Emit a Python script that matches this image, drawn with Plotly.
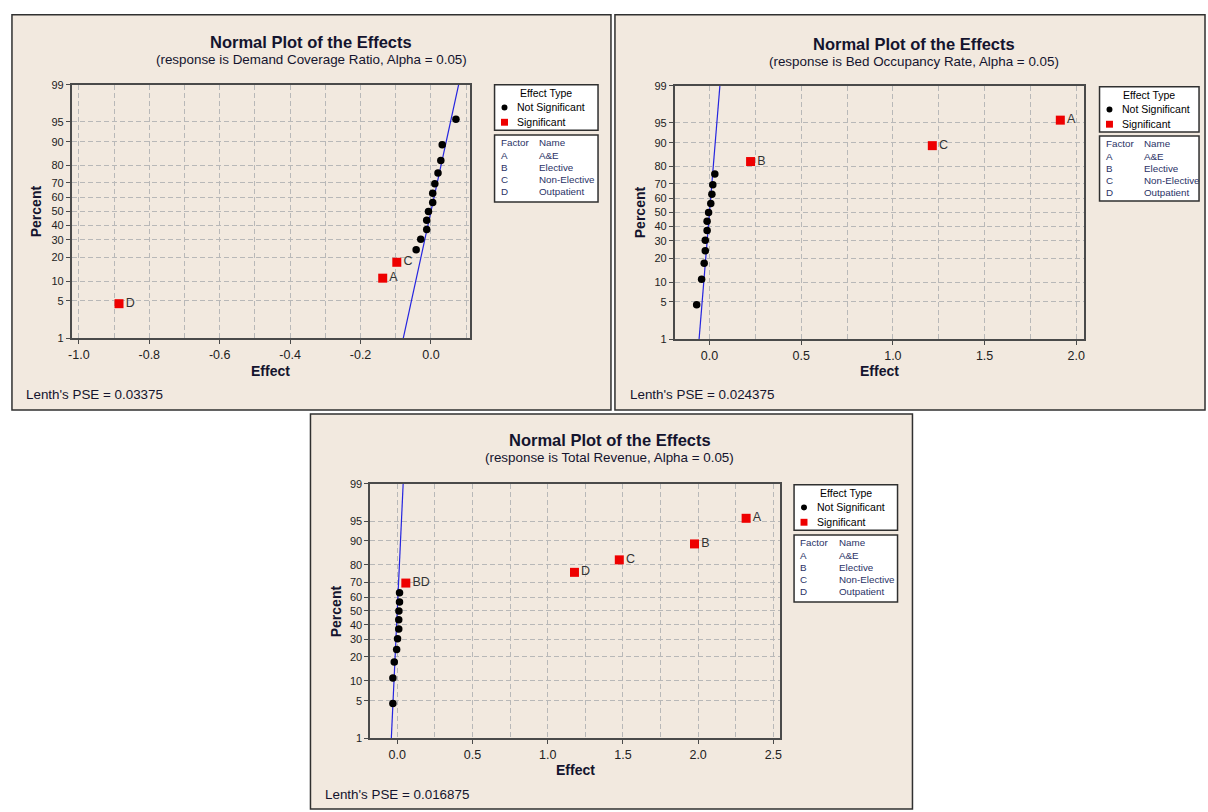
import plotly.graph_objects as go
from statistics import NormalDist

W, H = 1208, 812

# ---------------- data ----------------
percent = [4.5, 11.0, 17.5, 24.0, 30.5, 37.0, 43.5, 50.0, 56.5, 63.0, 69.5, 76.0, 82.5, 89.0, 95.5]
percent_ticks = [1, 5, 10, 20, 30, 40, 50, 60, 70, 80, 90, 95, 99]

dcr_effects = [-0.886, -0.137, -0.097, -0.042, -0.029, -0.012, -0.012, -0.007,
               0.005, 0.005, 0.011, 0.020, 0.028, 0.032, 0.071]
dcr_labels = ["D", "A", "C", "", "", "", "", "", "", "", "", "", "", "", ""]
dcr_pse = 0.03375
dcr_xticks = [-1.0, -0.8, -0.6, -0.4, -0.2, 0.0]

bor_effects = [-0.070, -0.043, -0.029, -0.023, -0.023, -0.013, -0.013, -0.005,
               0.007, 0.013, 0.018, 0.029, 0.224, 1.215, 1.913]
bor_labels = ["", "", "", "", "", "", "", "", "", "", "", "", "B", "C", "A"]
bor_pse = 0.024375
bor_xticks = [0.0, 0.5, 1.0, 1.5, 2.0]

rev_effects = [-0.029, -0.029, -0.020, -0.004, 0.002, 0.010, 0.010, 0.011,
               0.015, 0.015, 0.057, 1.178, 1.476, 1.976, 2.319]
rev_labels = ["", "", "", "", "", "", "", "", "", "", "BD", "D", "C", "B", "A"]
rev_pse = 0.016875
rev_xticks = [0.0, 0.5, 1.0, 1.5, 2.0, 2.5]

factor_codes = ["A", "B", "C", "D"]
factor_names = ["A&E", "Elective", "Non-Elective", "Outpatient"]

# ---------------- helpers ----------------
nd = NormalDist()
def z(p):
    return nd.inv_cdf(p / 100.0)

def px(x):
    return x / W

def py(y):
    return 1 - y / H

FONT = "Liberation Sans"
BEIGE = "#f2e9df"
TXT = "#14142e"
NAVY = "#2a3266"
GRID = "#b8b8b8"
FRAME = "#4a4a4a"

panels = [
    dict(effects=dcr_effects, labels=dcr_labels, pse=dcr_pse, xticks=dcr_xticks,
         response="Demand Coverage Ratio", pse_text="0.03375",
         box=(8, 9, 610, 410), plot=(68, 80, 468, 337), xrange=[-1.0205, 0.11],
         dtick_minor=0.1, tick0_minor=-1.0, title_x=309, title_y=37,
         xlab_y=370, ylab_x=33, lenth=(20, 394), legend=(493, 80, 597, 126, 131, 199)),
    dict(effects=bor_effects, labels=bor_labels, pse=bor_pse, xticks=bor_xticks,
         response="Bed Occupancy Rate", pse_text="0.024375",
         box=(614, 9, 1207, 410), plot=(674, 81, 1085, 338), xrange=[-0.19, 2.04],
         dtick_minor=0.25, tick0_minor=0.0, title_x=915, title_y=39,
         xlab_y=370, ylab_x=640, lenth=(627, 394), legend=(1101, 82, 1201, 128, 132, 198)),
    dict(effects=rev_effects, labels=rev_labels, pse=rev_pse, xticks=rev_xticks,
         response="Total Revenue", pse_text="0.016875",
         box=(308, 414, 913, 815), plot=(368, 485, 780, 743), xrange=[-0.18, 2.545],
         dtick_minor=0.25, tick0_minor=0.0, title_x=609, title_y=441,
         xlab_y=775, ylab_x=334, lenth=(321, 800), legend=(794, 486, 898, 532, 537, 605)),
]

fig = go.Figure()
shapes = []
annotations = []
zlo, zhi = z(1), z(99)
zpos = [z(p) for p in percent]

for i, P in enumerate(panels, start=1):
    sfx = "" if i == 1 else str(i)
    xa, ya = "x" + sfx, "y" + sfx

    # panel background
    bx0, by0, bx1, by1 = P["box"]
    shapes.append(dict(type="rect", xref="paper", yref="paper", layer="below",
                       x0=px(bx0), x1=px(bx1), y0=py(by1), y1=py(by0),
                       fillcolor=BEIGE, line=dict(color="#303030", width=1.5)))

    # fitted line (effect = PSE * z)
    fig.add_trace(go.Scatter(x=[P["pse"] * zlo, P["pse"] * zhi], y=[zlo, zhi], mode="lines",
                             line=dict(color="#2424e0", width=1.2), xaxis=xa, yaxis=ya,
                             showlegend=False, hoverinfo="skip"))
    ns_x = [e for e, l in zip(P["effects"], P["labels"]) if l == ""]
    ns_y = [zz for zz, l in zip(zpos, P["labels"]) if l == ""]
    s_x = [e for e, l in zip(P["effects"], P["labels"]) if l != ""]
    s_y = [zz for zz, l in zip(zpos, P["labels"]) if l != ""]
    s_t = [l for l in P["labels"] if l != ""]
    fig.add_trace(go.Scatter(x=ns_x, y=ns_y, mode="markers",
                             marker=dict(symbol="circle", size=7.5, color="black"),
                             xaxis=xa, yaxis=ya, showlegend=False))
    fig.add_trace(go.Scatter(x=s_x, y=s_y, mode="markers+text", text=s_t,
                             textposition="middle right",
                             textfont=dict(family=FONT, size=12.5, color="#333333"),
                             marker=dict(symbol="square", size=9, color="#ee0000"),
                             xaxis=xa, yaxis=ya, showlegend=False, cliponaxis=False))

    x0, y0, x1, y1 = P["plot"]
    axis_common = dict(showline=True, mirror=True, linecolor=FRAME, linewidth=1.5,
                       ticks="outside", ticklen=4, tickcolor=FRAME, zeroline=False,
                       showgrid=True, gridcolor=GRID, griddash="5px,3px", gridwidth=1,
                       tickfont=dict(family=FONT, size=12.5, color="#222222"))
    fig.layout["xaxis" + sfx] = dict(
        domain=[px(x0), px(x1)], anchor=ya, range=P["xrange"],
        tickmode="array", tickvals=P["xticks"], ticktext=[f"{v:.1f}" for v in P["xticks"]],
        minor=dict(tickmode="linear", tick0=P["tick0_minor"], dtick=P["dtick_minor"],
                   showgrid=True, gridcolor=GRID, griddash="5px,3px", ticks=""),
        **axis_common)
    yc = dict(axis_common)
    yc["tickfont"] = dict(family=FONT, size=11, color="#222222")
    fig.layout["yaxis" + sfx] = dict(
        domain=[py(y1), py(y0)], anchor=xa, range=[zlo, zhi],
        tickmode="array", tickvals=[z(p) for p in percent_ticks],
        ticktext=[str(p) for p in percent_ticks], **yc)

    # titles
    annotations.append(dict(text="<b>Normal Plot of the Effects</b>", x=px(P["title_x"]),
                            y=py(P["title_y"]), xref="paper", yref="paper", showarrow=False,
                            xanchor="center", yanchor="middle",
                            font=dict(family=FONT, size=16.5, color=TXT)))
    annotations.append(dict(text=f"(response is {P['response']}, Alpha = 0.05)",
                            x=px(P["title_x"]), y=py(P["title_y"] + 17), xref="paper",
                            yref="paper", showarrow=False, xanchor="center", yanchor="middle",
                            font=dict(family=FONT, size=13.4, color=TXT)))
    annotations.append(dict(text="<b>Effect</b>", x=px((x0 + x1) / 2), y=py(P["xlab_y"]),
                            xref="paper", yref="paper", showarrow=False, xanchor="center",
                            yanchor="middle", font=dict(family=FONT, size=14, color=TXT)))
    annotations.append(dict(text="<b>Percent</b>", x=px(P["ylab_x"]), y=py((y0 + y1) / 2),
                            xref="paper", yref="paper", showarrow=False, xanchor="center",
                            yanchor="middle", textangle=-90,
                            font=dict(family=FONT, size=14, color=TXT)))
    annotations.append(dict(text=f"Lenth's PSE = {P['pse_text']}", x=px(P["lenth"][0]),
                            y=py(P["lenth"][1]), xref="paper", yref="paper", showarrow=False,
                            xanchor="left", yanchor="middle",
                            font=dict(family=FONT, size=13.4, color=TXT)))

    # legend boxes
    lx0, ly0, lx1, ly1, fy0, fy1 = P["legend"]
    for (a, b) in [(ly0, ly1), (fy0, fy1)]:
        shapes.append(dict(type="rect", xref="paper", yref="paper",
                           x0=px(lx0), x1=px(lx1), y0=py(b), y1=py(a),
                           fillcolor="white", line=dict(color="#303030", width=1.5)))
    annotations.append(dict(text="Effect Type", x=px((lx0 + lx1) / 2), y=py(ly0 + 8),
                            xref="paper", yref="paper", showarrow=False, xanchor="center",
                            yanchor="middle", font=dict(family=FONT, size=10.5, color="black")))
    for k, name in enumerate(["Not Significant", "Significant"]):
        yy = ly0 + 23 + 15 * k
        annotations.append(dict(text=name, x=px(lx0 + 21), y=py(yy), xref="paper",
                                yref="paper", showarrow=False, xanchor="left",
                                yanchor="middle", font=dict(family=FONT, size=10.5, color="black")))
        if k == 0:
            shapes.append(dict(type="circle", xref="paper", yref="paper",
                               x0=px(lx0 + 7), x1=px(lx0 + 13), y0=py(yy + 3), y1=py(yy - 3),
                               fillcolor="black", line=dict(color="black", width=0)))
        else:
            shapes.append(dict(type="rect", xref="paper", yref="paper",
                               x0=px(lx0 + 6.5), x1=px(lx0 + 13.5), y0=py(yy + 3.5),
                               y1=py(yy - 3.5), fillcolor="#ee0000",
                               line=dict(color="#ee0000", width=0)))
    rows = [("Factor", "Name")] + list(zip(factor_codes, factor_names))
    for k, (c, n) in enumerate(rows):
        yy = fy0 + 8 + 12.3 * k
        annotations.append(dict(text=c, x=px(lx0 + 4), y=py(yy), xref="paper", yref="paper",
                                showarrow=False, xanchor="left", yanchor="middle",
                                font=dict(family=FONT, size=9.8, color=NAVY)))
        annotations.append(dict(text=n, x=px(lx0 + 43), y=py(yy), xref="paper", yref="paper",
                                showarrow=False, xanchor="left", yanchor="middle",
                                font=dict(family=FONT, size=9.8, color=NAVY)))

fig.update_layout(width=W, height=H, margin=dict(l=0, r=0, t=0, b=0),
                  paper_bgcolor="white", plot_bgcolor="white",
                  shapes=shapes, annotations=annotations, showlegend=False,
                  font=dict(family=FONT))
fig.write_html("out.html", config={"displayModeBar": False})

# remove the browser's default page margin so the figure fills the window exactly
with open("out.html", "r", encoding="utf-8") as f:
    html = f.read()
html = html.replace("<head>", "<head><style>html,body{margin:0;padding:0;overflow:hidden;}</style>", 1)
with open("out.html", "w", encoding="utf-8") as f:
    f.write(html)
